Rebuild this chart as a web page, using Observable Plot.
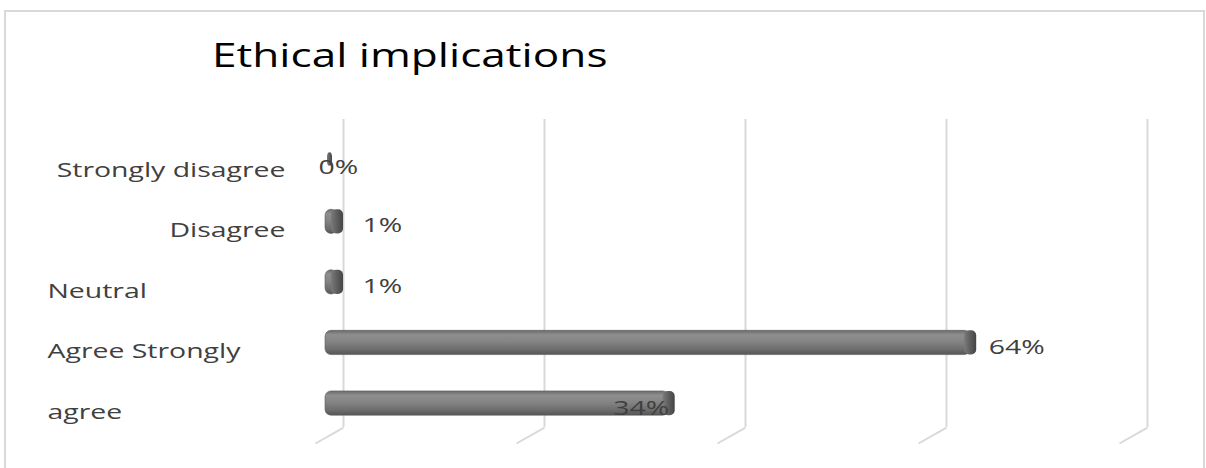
<!DOCTYPE html>
<html><head><meta charset="utf-8">
<script src="https://cdn.jsdelivr.net/npm/d3@7"></script>
<script src="https://cdn.jsdelivr.net/npm/@observablehq/plot@0.6"></script>
<style>
body{margin:0;background:#fff;width:1206px;height:468px;overflow:hidden;position:relative;font-family:"Open Sans",sans-serif;}
#frame{position:absolute;left:4px;top:10px;width:1201px;height:470px;border:2px solid #d9d9d9;box-sizing:border-box;}
#title{position:absolute;left:212px;top:33px;font-size:32px;color:#000;white-space:nowrap;transform:scaleX(1.38);transform-origin:0 0;}
#chart{position:absolute;left:0;top:100px;}
</style></head><body>
<div id="frame"></div>
<div id="title">Ethical implications</div>
<div id="chart"></div>
<script>
const categories = ["Strongly disagree", "Disagree", "Neutral", "Agree Strongly", "agree"];
const values = [0, 1, 1, 64, 34];
const valueLabels = ["0%", "1%", "1%", "64%", "34%"];
const gridTicks = [0, 20, 40, 60, 80];

const data = categories.map((c, i) => ({category: c, pos: i, value: values[i], label: valueLabels[i]}));

const xRange = [327, 1131];
const k = (xRange[1] - xRange[0]) / 80; // px per unit
const px = p => p / k;
const yTop = -0.69, yFloor = 4.397, yBottom = 4.66;
const half = 0.2;
const textColor = "#404040";
const fs = 20;
const maxV = d3.max(values);

const rightAligned = new Set(["Strongly disagree", "Disagree"]);

const chart = Plot.plot({
  width: 1206,
  height: 360,
  marginLeft: 0, marginRight: 0, marginTop: 0, marginBottom: 0,
  style: {fontFamily: "'Open Sans', sans-serif", background: "transparent"},
  x: {domain: [0, 80], range: xRange, axis: null},
  y: {domain: [yTop, yBottom], range: [19, 343], axis: null},
  marks: [
    // back-wall gridlines
    Plot.ruleX(gridTicks, {x: d => d + px(16), y1: yTop, y2: yFloor, stroke: "#d9d9d9", strokeWidth: 2}),
    // floor slant of gridlines
    Plot.link(gridTicks, {x1: d => d + px(16), y1: yFloor, x2: d => d - px(12), y2: yBottom, stroke: "#d9d9d9", strokeWidth: 2}),
    // cylinder bodies
    Plot.rect(data.filter(d => d.value > 0), {x1: 0, x2: "value", y1: d => d.pos - half, y2: d => d.pos + half, rx: 6, insetLeft: -2, fill: "url(#cyl)", stroke: "#5a5a5a", strokeWidth: 0.6}),
    // cylinder end caps
    Plot.rect(data, {
      x1: d => d.value - px(d.value > 0 ? 6 : 0),
      x2: d => d.value + px(d.value > 0 ? 6 : 5),
      y1: d => d.pos - (d.value > 0 ? half : 0.14),
      y2: d => d.pos + (d.value > 0 ? half : 0.08),
      rx: 5, fill: "url(#cap)"
    }),
    // category labels
    Plot.text(data.filter(d => rightAligned.has(d.category)), {y: "pos", text: "category", frameAnchor: "left", textAnchor: "end", dx: 285, dy: 9, fill: textColor, fontSize: fs}),
    Plot.text(data.filter(d => !rightAligned.has(d.category)), {y: "pos", text: "category", frameAnchor: "left", textAnchor: "start", dx: 47, dy: 9, fill: textColor, fontSize: fs}),
    // value labels
    Plot.text(data.filter(d => d.value === 0), {x: "value", y: "pos", text: "label", textAnchor: "start", dx: -9, dy: 6, fill: textColor, fontSize: fs}),
    Plot.text(data.filter(d => d.value > 0 && d.value < 5), {x: "value", y: "pos", text: "label", textAnchor: "start", dx: 25, dy: 4, fill: textColor, fontSize: fs}),
    Plot.text(data.filter(d => d.value === maxV), {x: "value", y: "pos", text: "label", textAnchor: "start", dx: 18, dy: 5, fill: textColor, fontSize: fs}),
    Plot.text(data.filter(d => d.value >= 5 && d.value < maxV), {x: "value", y: "pos", text: "label", textAnchor: "end", dx: 0, dy: 5, fill: textColor, fontSize: fs})
  ]
});

const defs = d3.select(chart).insert("defs", ":first-child");
const g1 = defs.append("linearGradient").attr("id", "cyl").attr("x1", 0).attr("y1", 0).attr("x2", 0).attr("y2", 1);
[[0, "#6a6a6a"], [0.18, "#8e8e8e"], [0.45, "#858585"], [0.8, "#6c6c6c"], [1, "#555555"]].forEach(([o, c]) => g1.append("stop").attr("offset", o).attr("stop-color", c));
const g2 = defs.append("linearGradient").attr("id", "cap").attr("x1", 0).attr("y1", 0).attr("x2", 1).attr("y2", 0);
[[0, "#7a7a7a"], [0.5, "#5e5e5e"], [1, "#444444"]].forEach(([o, c]) => g2.append("stop").attr("offset", o).attr("stop-color", c));

document.getElementById("chart").appendChild(chart);

// horizontally stretch the text like the source rendering
chart.querySelectorAll("text").forEach(t => {
  const L = t.getComputedTextLength();
  t.setAttribute("textLength", (L * 1.42).toFixed(1));
  t.setAttribute("lengthAdjust", "spacingAndGlyphs");
});
</script>
</body></html>
